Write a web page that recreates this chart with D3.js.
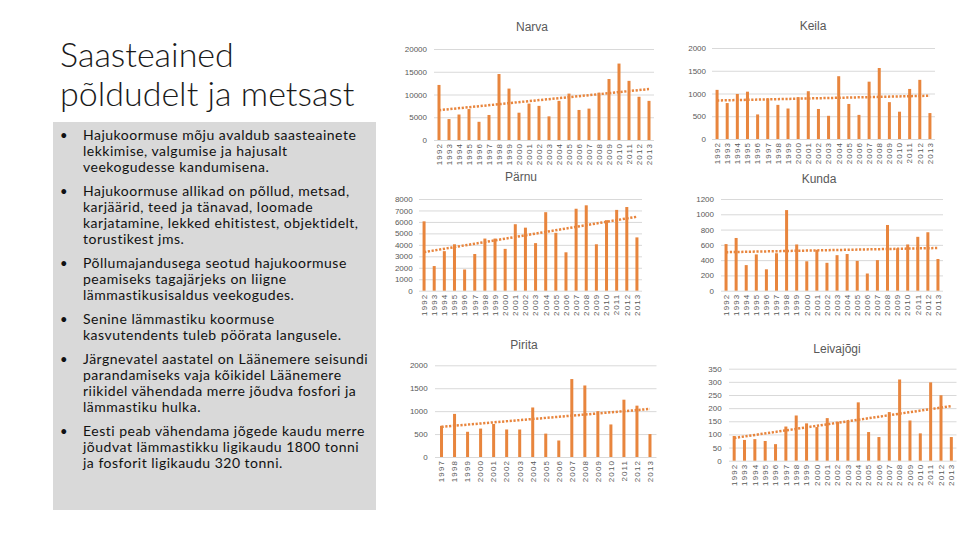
<!DOCTYPE html>
<html><head><meta charset="utf-8">
<script src="https://cdn.jsdelivr.net/npm/d3@7"></script>
<style>html,body{margin:0;padding:0;background:#fff;} svg{display:block;}</style>
</head><body><svg id="c" width="960" height="540"></svg>
<script>
// ---------- data ----------
const years = ["1992","1993","1994","1995","1996","1997","1998","1999","2000","2001","2002","2003","2004","2005","2006","2007","2008","2009","2010","2011","2012","2013"];
const yearsPirita = ["1997","1998","1999","2000","2001","2002","2003","2004","2005","2006","2007","2008","2009","2010","2011","2012","2013"];

const narva = [12100,4600,5600,6800,4000,5500,14500,11300,6000,8000,7500,5200,8600,10200,6600,6900,10400,13400,16800,13000,9500,8600];
const keila = [1080,790,990,1040,540,890,750,670,920,1050,660,510,1380,770,530,1260,1560,810,600,1100,1300,570];
const parnu = [6050,2150,3450,4050,1850,3200,4550,4550,3650,5800,5500,4150,6850,5050,3350,7150,7450,4050,6150,7050,7300,4650];
const kunda = [610,690,335,475,280,490,1055,605,385,535,365,465,480,390,225,400,860,555,605,705,765,415];
const pirita = [680,940,550,620,720,600,600,1080,510,360,1700,1560,1000,710,1250,1120,500];
const leivajogi = [94,79,82,75,63,130,172,142,128,162,148,153,222,109,90,185,309,153,104,298,249,90];

const titleLines = ["Saasteained","põldudelt ja metsast"];
const bullets = [
  ["Hajukoormuse mõju avaldub saasteainete","lekkimise, valgumise ja hajusalt","veekogudesse kandumisena."],
  ["Hajukoormuse allikad on põllud, metsad,","karjäärid, teed ja tänavad, loomade","karjatamine, lekked ehitistest, objektidelt,","torustikest jms."],
  ["Põllumajandusega seotud hajukoormuse","peamiseks tagajärjeks on liigne","lämmastikusisaldus veekogudes."],
  ["Senine lämmastiku koormuse","kasvutendents tuleb pöörata langusele."],
  ["Järgnevatel aastatel on Läänemere seisundi","parandamiseks vaja kõikidel Läänemere","riikidel vähendada merre jõudva fosfori ja","lämmastiku hulka."],
  ["Eesti peab vähendama jõgede kaudu merre","jõudvat lämmastikku ligikaudu 1800 tonni","ja fosforit ligikaudu 320 tonni."]
];

// ---------- layout ----------
const panels = [
  {title:"Narva", cats:years, values:narva, max:20000, step:5000, x0:434, x1:654, y0:140, y1:49, labelX:427, tx:532, ty:31},
  {title:"Keila", cats:years, values:keila, max:2000, step:500, x0:712, x1:935, y0:139, y1:48, labelX:706, tx:813, ty:30},
  {title:"Pärnu", cats:years, values:parnu, max:8000, step:1000, x0:419, x1:642, y0:290.7, y1:199, labelX:412.7, tx:521, ty:181},
  {title:"Kunda", cats:years, values:kunda, max:1200, step:200, x0:721, x1:943, y0:290.7, y1:199, labelX:714, tx:819, ty:183},
  {title:"Pirita", cats:yearsPirita, values:pirita, max:2000, step:500, x0:435, x1:656.5, y0:457, y1:365.3, labelX:427.7, tx:524, ty:349},
  {title:"Leivajõgi", cats:years, values:leivajogi, max:350, step:50, x0:729, x1:956.5, y0:460.7, y1:368.7, labelX:721.7, tx:837, ty:353}
];

const svg = d3.select("#c");
const ORANGE = "#E8853D";

// ---------- left text ----------
svg.append("rect").attr("x",53).attr("y",122).attr("width",323).attr("height",388).attr("fill","#d9d9d9");

svg.selectAll("text.title").data(titleLines).join("text")
  .attr("class","title")
  .attr("x",60).attr("y",(d,i)=>67+i*39)
  .attr("font-family","Lato, 'Open Sans', sans-serif").attr("font-weight",300)
  .attr("font-size",34).attr("fill","#1a1a1a").text(d=>d);

const bulletStarts = [140,196,268,324,364,436];
bullets.forEach((lines,bi)=>{
  const y0 = bulletStarts[bi];
  svg.append("text").attr("x",60).attr("y",y0).attr("font-family","Lato, sans-serif")
    .attr("font-size",13).attr("fill","#111").text("•");
  lines.forEach((ln,li)=>{
    svg.append("text").attr("x",83).attr("y",y0+li*16)
      .attr("font-family","Lato, sans-serif").attr("font-size",14)
      .attr("letter-spacing",0.5).attr("fill","#111").text(ln);
  });
});

// ---------- charts ----------
panels.forEach(p=>{
  const g = svg.append("g");
  const x = d3.scaleBand().domain(p.cats).range([p.x0,p.x1]);
  const y = d3.scaleLinear().domain([0,p.max]).range([p.y0,p.y1]);
  const ticks = d3.range(0,p.max+1,p.step);

  const ya = g.append("g").attr("transform",`translate(${p.x0},0)`)
    .call(d3.axisLeft(y).tickValues(ticks).tickSize(-(p.x1-p.x0)).tickPadding(p.x0-p.labelX).tickFormat(d3.format("d")));
  ya.select(".domain").remove();
  ya.selectAll("line").attr("stroke","#d9d9d9").attr("stroke-width",1);
  ya.selectAll("text").attr("font-family","'Liberation Sans', Arial, sans-serif").attr("font-size",8).attr("fill","#595959");

  const xa = g.append("g").attr("transform",`translate(0,${p.y0})`)
    .call(d3.axisBottom(x).tickSize(0));
  xa.select(".domain").remove();
  xa.selectAll("text").attr("transform","rotate(-90)").attr("text-anchor","end")
    .attr("x",-3).attr("y",0).attr("dy","0.35em")
    .attr("font-family","'Liberation Sans', Arial, sans-serif").attr("font-size",8)
    .attr("letter-spacing",1.1).attr("fill","#595959");

  const bw = 3;
  g.selectAll("rect.bar").data(p.values).join("rect").attr("class","bar")
    .attr("x",(d,i)=>x(p.cats[i])+x.bandwidth()/2-bw/2)
    .attr("y",d=>y(d)).attr("width",bw).attr("height",d=>p.y0-y(d))
    .attr("fill",ORANGE);

  // linear trend (least squares)
  const n = p.values.length;
  const mx = (n-1)/2, my = d3.mean(p.values);
  let sxy=0, sxx=0;
  p.values.forEach((v,i)=>{sxy+=(i-mx)*(v-my); sxx+=(i-mx)*(i-mx);});
  const b = sxy/sxx, a = my-b*mx;
  const pts = [[0,a],[n-1,a+b*(n-1)]];
  g.append("path")
    .attr("d",d3.line().x(d=>x(p.cats[d[0]])+x.bandwidth()/2).y(d=>y(d[1]))(pts))
    .attr("stroke",ORANGE).attr("stroke-width",2.5).attr("stroke-dasharray","2.2 1.6").attr("fill","none");

  g.append("text").attr("x",p.tx).attr("y",p.ty).attr("text-anchor","middle")
    .attr("font-family","'Liberation Sans', Arial, sans-serif").attr("font-size",12)
    .attr("fill","#595959").text(p.title);
});
</script>
</body></html>
